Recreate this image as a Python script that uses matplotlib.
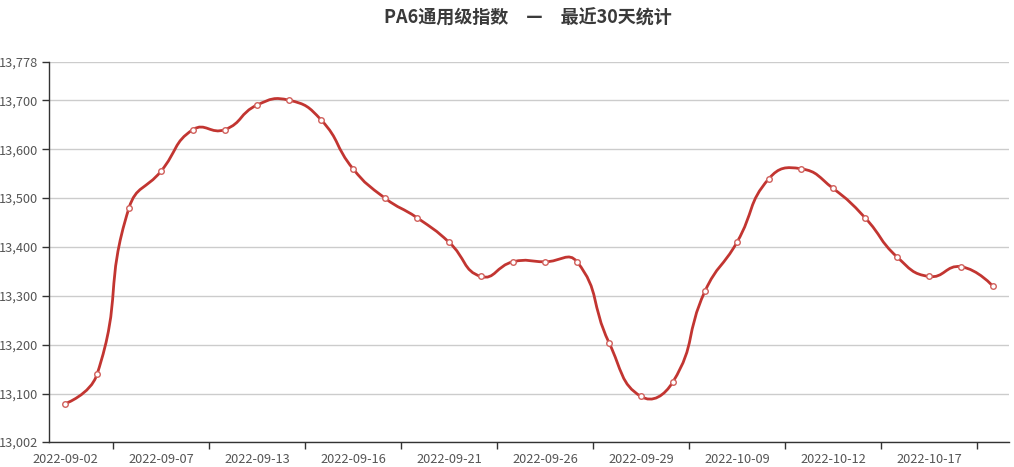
import matplotlib
matplotlib.use("Agg")
import matplotlib.pyplot as plt
from matplotlib.path import Path
from matplotlib.patches import PathPatch
import numpy as np

dates = ["2022-09-02", "2022-09-05", "2022-09-06", "2022-09-07", "2022-09-08",
         "2022-09-09", "2022-09-13", "2022-09-14", "2022-09-15", "2022-09-16",
         "2022-09-19", "2022-09-20", "2022-09-21", "2022-09-22", "2022-09-23",
         "2022-09-26", "2022-09-27", "2022-09-28", "2022-09-29", "2022-09-30",
         "2022-10-08", "2022-10-09", "2022-10-10", "2022-10-11", "2022-10-12",
         "2022-10-13", "2022-10-14", "2022-10-17", "2022-10-18", "2022-10-19"]
values = [13080, 13140, 13480, 13555, 13640, 13640, 13690, 13700, 13660, 13560,
          13500, 13460, 13410, 13340, 13370, 13370, 13370, 13205, 13095, 13125,
          13310, 13410, 13540, 13560, 13520, 13460, 13380, 13340, 13360, 13320]
y_min, y_max = 13002, 13778
y_ticks = [13002, 13100, 13200, 13300, 13400, 13500, 13600, 13700, 13778]
title = "PA6通用级指数　—　最近30天统计"

plt.rcParams['font.family'] = ['Noto Sans CJK SC', 'DejaVu Sans']

W, H = 1014, 467
fig = plt.figure(figsize=(W / 100, H / 100), dpi=100)
left, right, top, bottom = 49, 1009, 62, 442
ax = fig.add_axes([left / W, (H - bottom) / H, (right - left) / W, (bottom - top) / H])

n = len(values)
xs = np.arange(n, dtype=float)
ys = np.array(values, dtype=float)

# smooth bezier (echarts-like) computed in pixel-ish space
sx = (right - left) / n
sy = (bottom - top) / (y_max - y_min)
px = xs * sx
py = ys * sy
smooth = 0.5
verts = [(px[0], py[0])]
codes = [Path.MOVETO]
cp1 = (px[0], py[0])
for i in range(1, n):
    x, y = px[i], py[i]
    if i < n - 1:
        prx, pry = px[i - 1], py[i - 1]
        nx, ny = px[i + 1], py[i + 1]
        vx, vy = nx - prx, ny - pry
        lp = np.hypot(x - prx, y - pry)
        ln = np.hypot(nx - x, ny - y)
        r = ln / (ln + lp)
        ncx, ncy = x + vx * smooth * r, y + vy * smooth * r
        cx0 = x - (ncx - x) * lp / ln
        cy0 = y - (ncy - y) * lp / ln
    else:
        cx0, cy0 = x, y
        ncx, ncy = x, y
    verts += [cp1, (cx0, cy0), (x, y)]
    codes += [Path.CURVE4] * 3
    cp1 = (ncx, ncy)
verts = [(vx_ / sx, vy_ / sy) for vx_, vy_ in verts]
path = Path(verts, codes)
ax.add_patch(PathPatch(path, facecolor='none', edgecolor='#c23531', lw=2, zorder=3))
ax.plot(xs, ys, linestyle='none', marker='o', markersize=4, markerfacecolor='white',
        markeredgecolor='#d0605c', markeredgewidth=1, zorder=4)

ax.set_xlim(-0.5, n - 0.5)
ax.set_ylim(y_min, y_max)
ax.set_yticks(y_ticks)
ax.set_yticklabels([f"{v:,}" for v in y_ticks])
ax.yaxis.grid(True, color='#cccccc', lw=1)
ax.set_axisbelow(True)

ax.set_xticks(np.arange(0, n, 3))
ax.set_xticklabels([dates[i] for i in range(0, n, 3)])
ax.set_xticks(np.arange(1.5, n, 3), minor=True)
ax.tick_params(axis='x', which='major', length=0, pad=8, labelsize=9.2, labelcolor='#555555')
ax.tick_params(axis='x', which='minor', length=5, width=1, color='#333333')
ax.tick_params(axis='y', length=5, width=1, color='#333333', labelsize=9.2, labelcolor='#555555', pad=3)

for s in ['top', 'right']:
    ax.spines[s].set_visible(False)
for s in ['left', 'bottom']:
    ax.spines[s].set_color('#333333')
    ax.spines[s].set_linewidth(1)

fig.text(528 / W, 1 - 18 / H, title, ha='center', va='center', fontsize=13, fontweight='bold', color='#3a3a3a')

fig.savefig("out.png", dpi=100)
